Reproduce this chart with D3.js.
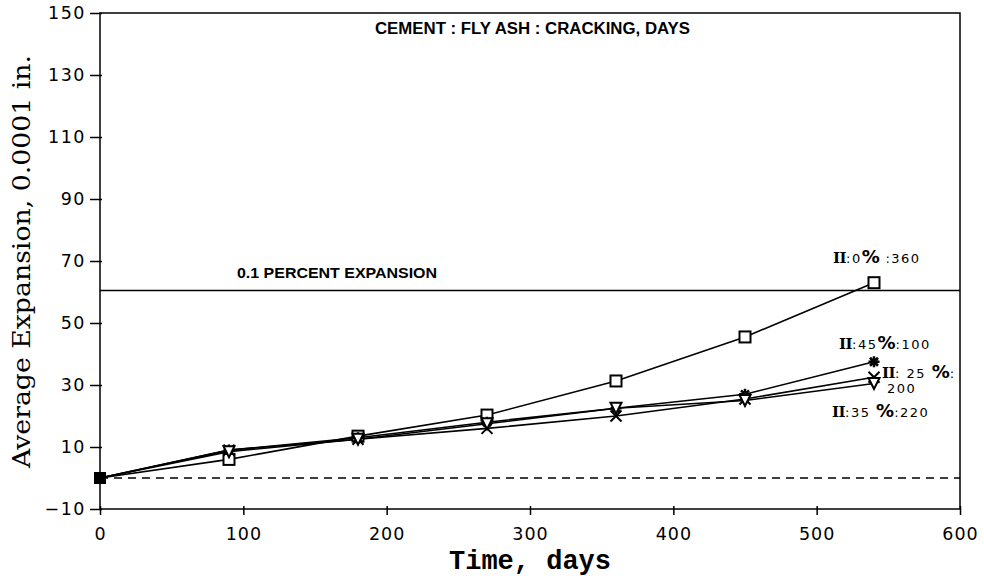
<!DOCTYPE html>
<html><head><meta charset="utf-8">
<script src="https://cdn.jsdelivr.net/npm/d3@7"></script>
<style>body{margin:0;background:#fff}svg{display:block}</style>
</head><body>
<svg id="c" width="984" height="578"></svg>
<script>
const days = [0, 90, 180, 270, 360, 450, 540];
const flyAsh0 = [0, 6, 13.5, 20.3, 31.3, 45.5, 63];
const flyAsh45 = [0, 9, 13, 18, 22.5, 27, 37.5];
const flyAsh25 = [0, 9, 12.5, 16, 20, 25.5, 32.5];
const flyAsh35 = [0, 8.5, 12.5, 17.5, 22.5, 25, 30.5];
const xTicks = [0, 100, 200, 300, 400, 500, 600];
const yTicks = [-10, 10, 30, 50, 70, 90, 110, 130, 150];
const limitValue = 60.5;

const svg = d3.select("#c");
const x = d3.scaleLinear().domain([0, 600]).range([100, 960]);
const y = d3.scaleLinear().domain([-10, 150]).range([509, 13]);

// frame
svg.append("rect").attr("x", x(0)).attr("y", y(150)).attr("width", x(600) - x(0)).attr("height", y(-10) - y(150))
  .attr("fill", "none").attr("stroke", "#000").attr("stroke-width", 1.5);

// axes
const xAxis = d3.axisBottom(x).tickValues(xTicks).tickSize(6).tickPadding(13);
const gx = svg.append("g").attr("transform", `translate(0,${y(-10)})`).call(xAxis);
gx.select(".domain").remove();
gx.selectAll(".tick line").attr("y1", -3).attr("y2", 6).attr("stroke-width", 1.5);
gx.selectAll("text").attr("font-family", "DejaVu Sans").attr("font-size", 17.5).attr("letter-spacing", 1).attr("fill", "#000");

const yAxis = d3.axisLeft(y).tickValues(yTicks).tickSize(10).tickPadding(4).tickFormat(d => d < 0 ? "\u2212" + Math.abs(d) : d);
const gy = svg.append("g").attr("transform", `translate(${x(0)},0)`).call(yAxis);
gy.select(".domain").remove();
gy.selectAll(".tick line").attr("x1", -10).attr("x2", 2).attr("stroke-width", 1.5);
gy.selectAll("text").attr("font-family", "DejaVu Sans").attr("font-size", 17.5).attr("letter-spacing", 1.5).attr("fill", "#000");

// reference lines
svg.append("line").attr("x1", x(0)).attr("x2", x(600)).attr("y1", y(0)).attr("y2", y(0))
  .attr("stroke", "#000").attr("stroke-width", 1.5).attr("stroke-dasharray", "8,6");
svg.append("line").attr("x1", x(0)).attr("x2", x(600)).attr("y1", y(limitValue)).attr("y2", y(limitValue))
  .attr("stroke", "#000").attr("stroke-width", 1.5);

const line = d3.line().x((d, i) => x(days[i])).y(d => y(d));
const series = [
  {vals: flyAsh0, marker: "square"},
  {vals: flyAsh45, marker: "asterisk"},
  {vals: flyAsh25, marker: "cross"},
  {vals: flyAsh35, marker: "triangle"}
];
series.forEach(s => {
  svg.append("path").attr("d", line(s.vals)).attr("fill", "none").attr("stroke", "#000").attr("stroke-width", 1.6);
});
function drawMarker(g, type, cx, cy) {
  const r = 5.5;
  if (type === "square") {
    g.append("rect").attr("x", cx - r).attr("y", cy - r).attr("width", 2 * r).attr("height", 2 * r)
      .attr("fill", "#fff").attr("stroke", "#000").attr("stroke-width", 2);
  } else if (type === "asterisk") {
    g.append("path").attr("d", `M${cx - r},${cy}H${cx + r}M${cx},${cy - r}V${cy + r}M${cx - 4},${cy - 4}L${cx + 4},${cy + 4}M${cx - 4},${cy + 4}L${cx + 4},${cy - 4}`)
      .attr("stroke", "#000").attr("stroke-width", 2.5);
  } else if (type === "cross") {
    g.append("path").attr("d", `M${cx - r},${cy - r}L${cx + r},${cy + r}M${cx - r},${cy + r}L${cx + r},${cy - r}`)
      .attr("stroke", "#000").attr("stroke-width", 2);
  } else {
    g.append("path").attr("d", `M${cx - r},${cy - r}H${cx + r}L${cx},${cy + r}Z`)
      .attr("fill", "#fff").attr("stroke", "#000").attr("stroke-width", 2);
  }
}
const mg = svg.append("g");
series.forEach(s => {
  s.vals.forEach((v, i) => { if (i > 0) drawMarker(mg, s.marker, x(days[i]), y(v)); });
});
// origin: overlapping markers appear filled
mg.append("rect").attr("x", x(0) - 6).attr("y", y(0) - 6).attr("width", 12).attr("height", 12).attr("fill", "#000");

// annotations
const annFont = "Liberation Sans, Arial, sans-serif";
svg.append("text").attr("x", 375).attr("y", 34).attr("textLength", 315).attr("lengthAdjust", "spacingAndGlyphs")
  .attr("font-family", annFont).attr("font-weight", "bold").attr("font-size", 16).text("CEMENT : FLY ASH : CRACKING, DAYS");
svg.append("text").attr("x", 237).attr("y", y(limitValue) - 12).attr("textLength", 200).attr("lengthAdjust", "spacingAndGlyphs")
  .attr("font-family", annFont).attr("font-weight", "bold").attr("font-size", 14).text("0.1 PERCENT EXPANSION");

function seriesLabel(tx, ty, parts) {
  const t = svg.append("text").attr("x", tx).attr("y", ty).attr("font-family", "DejaVu Sans")
    .attr("font-size", 13).attr("letter-spacing", 1.5);
  parts.forEach(p => {
    const ts = t.append("tspan").text(p.t);
    if (p.serif) ts.attr("font-family", "DejaVu Serif").attr("font-weight", "bold").attr("font-size", 15).attr("letter-spacing", -0.5);
    if (p.big) ts.attr("font-size", 18).attr("font-weight", "bold").attr("letter-spacing", 0);
  });
}
seriesLabel(833, 263, [{t: "II", serif: true}, {t: ":0"}, {t: "%", big: true}, {t: " :360"}]);
seriesLabel(839, 349, [{t: "II", serif: true}, {t: ":45"}, {t: "%", big: true}, {t: ":100"}]);
seriesLabel(882, 378, [{t: "II", serif: true}, {t: ": 25 "}, {t: "%", big: true}, {t: ":"}]);
seriesLabel(887, 393, [{t: "200"}]);
seriesLabel(832, 417, [{t: "II", serif: true}, {t: ":35 "}, {t: "%", big: true}, {t: ":220"}]);

// axis titles
svg.append("text").attr("x", 449).attr("y", 569).attr("textLength", 162).attr("lengthAdjust", "spacingAndGlyphs")
  .attr("font-family", "Liberation Mono").attr("font-weight", "bold").attr("font-size", 27).text("Time, days");
svg.append("text").attr("transform", `translate(30,468) rotate(-90)`).attr("textLength", 413).attr("lengthAdjust", "spacingAndGlyphs")
  .attr("font-family", "DejaVu Serif").attr("font-size", 24).text("Average Expansion, 0.0001 in.");
</script>
</body></html>
